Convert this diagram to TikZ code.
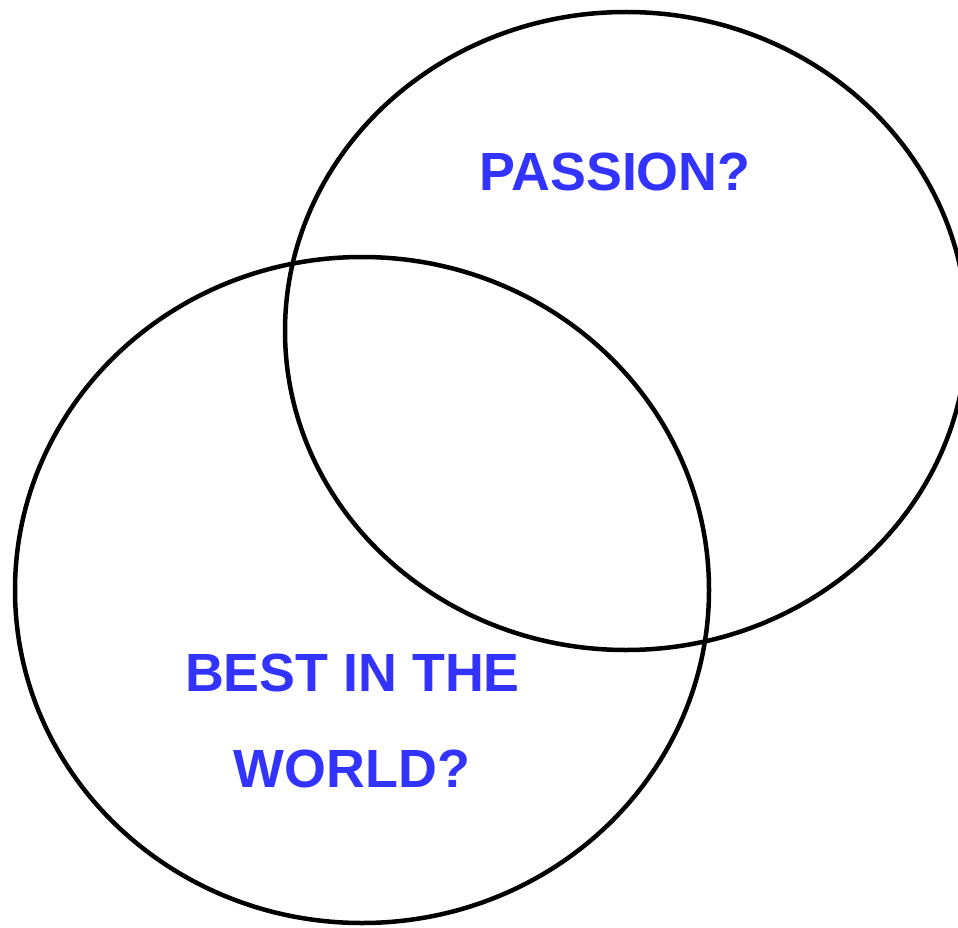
\documentclass[tikz,border=0pt]{standalone}
\usepackage{fontspec}
\setmainfont{Liberation Sans}
\definecolor{labelblue}{RGB}{51,51,255}
\begin{document}
\begin{tikzpicture}[x=1pt,y=-1pt,
  ring/.style={draw=black,line width=4.5pt},
  lbl/.style={text=labelblue,font=\fontsize{53.8}{54}\selectfont\bfseries,inner sep=0pt,text height=38.5pt,text depth=0pt,anchor=center}]
\useasboundingbox (0,0) rectangle (958,928);
\clip (0,0) rectangle (958,928);
\fill[white] (0,0) rectangle (958,928);
\draw[ring] (626,331) ellipse [x radius=341, y radius=319];
\draw[ring] (362,590) ellipse [x radius=347, y radius=333];
\node[lbl] (passion) at (615,171.5) {PASSION?};
\node[lbl] (best) at (352.5,672.5) {BEST IN THE};
\node[lbl] (world) at (352,768) {WORLD?};
\end{tikzpicture}
\end{document}
